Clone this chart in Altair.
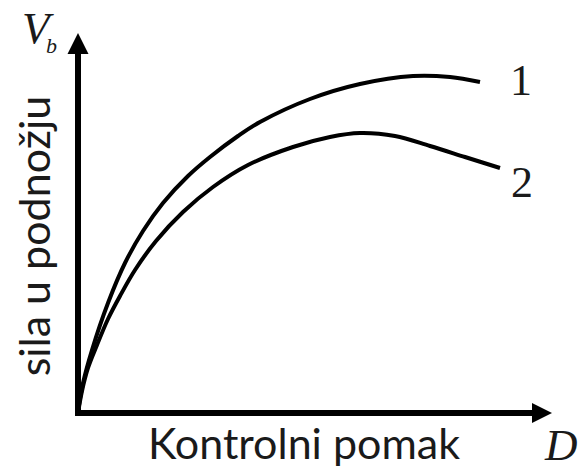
import altair as alt
import pandas as pd

# pushover curves: control displacement D vs base shear Vb (pixel-scaled units)
curve1_x = [0, 2, 5, 14, 30, 47, 65, 85, 110, 132, 160, 182, 232, 282, 335, 372, 402]
curve1_y = [0, 14, 30, 63, 110, 150, 182, 210, 237, 256, 277, 291, 314, 329, 337, 336, 331]
curve2_x = [0, 4, 10, 19, 30, 42, 57, 78, 105, 135, 170, 215, 252, 282, 317, 352, 387, 422]
curve2_y = [0, 22, 45, 68, 94, 117, 143, 172, 201, 226, 248, 266, 276, 280, 277, 267, 256, 245]
curve_labels = ["1", "2"]
x_title = "Kontrolni pomak"
y_title = "sila u podnožju"
x_symbol = "D"
y_symbol = "V"
y_symbol_sub = "b"

W, H = 474, 380

df = pd.concat([
    pd.DataFrame({"d": curve1_x, "v": curve1_y, "curve": curve_labels[0]}),
    pd.DataFrame({"d": curve2_x, "v": curve2_y, "curve": curve_labels[1]}),
])
one = pd.DataFrame({"a": [0]})

xs = alt.Scale(domain=[0, W], nice=False, zero=False)
ys = alt.Scale(domain=[0, H], nice=False, zero=False)

lines = alt.Chart(df).mark_line(
    interpolate="catmull-rom", color="black", strokeWidth=4
).encode(
    x=alt.X("d:Q", scale=xs, axis=None),
    y=alt.Y("v:Q", scale=ys, axis=None),
    detail="curve:N",
)

base = alt.Chart(one)
yaxis = base.mark_rule(color="black", strokeWidth=6, strokeCap="square").encode(
    x=alt.value(0), y=alt.value(18), y2=alt.value(H))
xaxis = base.mark_rule(color="black", strokeWidth=6, strokeCap="square").encode(
    x=alt.value(0), x2=alt.value(456), y=alt.value(H))
yarrow = base.mark_point(shape="M0,-1L1,1L-1,1Z", size=441, filled=True,
                         color="black", opacity=1, strokeWidth=0).encode(
    x=alt.value(0), y=alt.value(10.5))
xarrow = base.mark_point(shape="M1,0L-1,-1L-1,1Z", size=400, filled=True,
                         color="black", opacity=1, strokeWidth=0).encode(
    x=alt.value(464), y=alt.value(H))

sans = "Lato"
serif = "Liberation Serif"
tcol = "#1a1a1a"

xt = base.mark_text(text=x_title, font=sans, fontSize=43, align="center",
                    baseline="alphabetic", color=tcol).encode(
    x=alt.value(226), y=alt.value(426))
yt = base.mark_text(text=y_title, font=sans, fontSize=43, align="center",
                    baseline="alphabetic", angle=270, color=tcol).encode(
    x=alt.value(-28), y=alt.value(203))
vsym = base.mark_text(text=y_symbol, font=serif, fontStyle="italic", fontSize=45,
                      align="left", baseline="alphabetic", color=tcol).encode(
    x=alt.value(-56), y=alt.value(10))
bsym = base.mark_text(text=y_symbol_sub, font=serif, fontStyle="italic", fontSize=22,
                      align="left", baseline="alphabetic", color=tcol).encode(
    x=alt.value(-32), y=alt.value(20))
dsym = base.mark_text(text=x_symbol, font=serif, fontStyle="italic", fontSize=45,
                      align="left", baseline="alphabetic", color=tcol).encode(
    x=alt.value(467), y=alt.value(427))
l1 = base.mark_text(text=curve_labels[0], font=serif, fontSize=44, align="center",
                    baseline="alphabetic", color=tcol).encode(
    x=alt.value(443), y=alt.value(62))
l2 = base.mark_text(text=curve_labels[1], font=serif, fontSize=44, align="center",
                    baseline="alphabetic", color=tcol).encode(
    x=alt.value(444), y=alt.value(164))

chart = alt.layer(
    lines, yaxis, xaxis, yarrow, xarrow, xt, yt, vsym, bsym, dsym, l1, l2
).properties(
    width=W, height=H,
    autosize=alt.AutoSizeParams(type="none"),
    padding={"left": 70, "top": 25, "right": 26, "bottom": 55},
    background="white",
).configure_view(stroke=None)

chart.save("out.html", embed_options={"renderer": "svg", "actions": False})
